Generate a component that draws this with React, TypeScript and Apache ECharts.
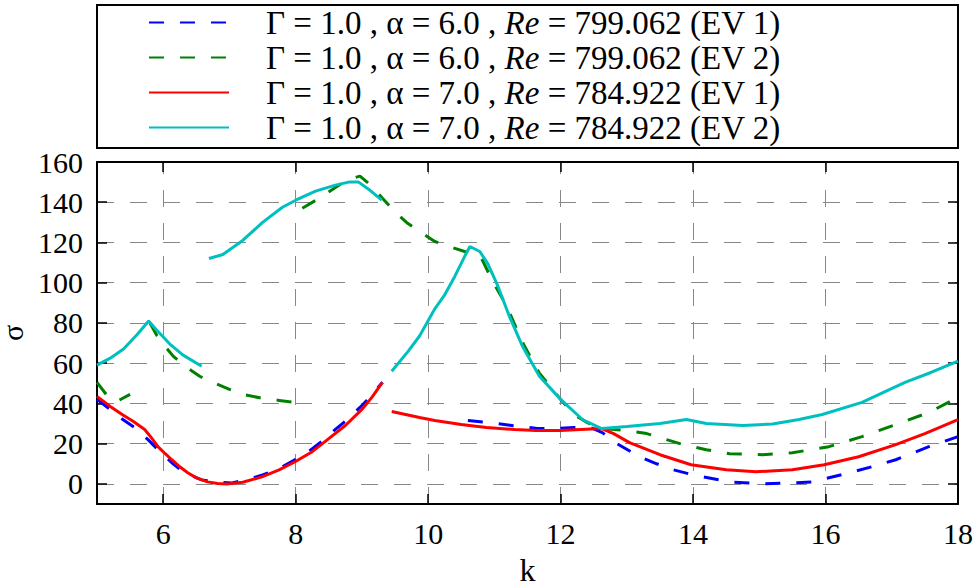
import React, { useEffect, useRef } from "react";
import * as echarts from "echarts";

const FONT = "'Liberation Serif', 'Times New Roman', 'DejaVu Serif', serif";

const xTicks = [6, 8, 10, 12, 14, 16, 18];
const yTicks = [0, 20, 40, 60, 80, 100, 120, 140, 160];

const seriesNames = [
  "Γ = 1.0 , α = 6.0 , Re = 799.062 (EV 1)",
  "Γ = 1.0 , α = 6.0 , Re = 799.062 (EV 2)",
  "Γ = 1.0 , α = 7.0 , Re = 784.922 (EV 1)",
  "Γ = 1.0 , α = 7.0 , Re = 784.922 (EV 2)",
];

// alpha = 6.0, EV 1 (blue dashed)
const blueSeg1: number[][] = [
  [5, 42], [5.2, 37], [5.39, 32], [5.57, 28], [5.77, 22], [5.95, 16], [6.13, 10.5],
  [6.3, 6], [6.58, 2], [6.8, 0.8], [7.04, 0.5], [7.26, 2], [7.5, 4.5], [7.72, 7],
  [7.96, 11.5], [8.17, 15.5], [8.39, 21], [8.56, 26], [8.78, 32], [8.97, 38],
  [9.12, 43], [9.31, 50.5],
];
const blueSeg2: number[][] = [
  [10.6, 31.5], [10.9, 30.5], [11.15, 29.5], [11.4, 28.5], [11.65, 27.5], [11.9, 27.5],
  [12.2, 28], [12.45, 28], [12.63, 25.5], [12.85, 20], [13.19, 13.5], [13.45, 10],
  [13.7, 7], [14.0, 4.5], [14.55, 1], [15.05, 0], [15.5, 0.5], [15.8, 1], [16.3, 5],
  [16.7, 8.5], [17.06, 12], [17.56, 18.5], [18, 23.5],
];

// alpha = 6.0, EV 2 (green dashed)
const greenSeg1: number[][] = [[5, 50.5], [5.15, 44], [5.3, 41], [5.5, 44.5]];
const greenSeg2: number[][] = [
  [5.8, 80], [5.9, 74], [6.0, 69.5], [6.15, 63.5], [6.35, 58], [6.55, 53.5],
  [6.75, 50.5], [7.0, 47], [7.2, 44.5], [7.5, 42.5], [7.75, 41.5], [8.0, 40.5],
];
const greenSeg3: number[][] = [
  [8.1, 137], [8.33, 141.5], [8.56, 146.5], [8.77, 151], [8.97, 153], [9.15, 148],
  [9.31, 142], [9.49, 135.5], [9.69, 129.5], [9.87, 125.5], [10.1, 120.5], [10.32, 118],
  [10.6, 115], [10.8, 112.5], [10.97, 101], [11.15, 90.5], [11.23, 85], [11.43, 70],
  [11.68, 55], [12.0, 42], [12.2, 34.5], [12.4, 30.5], [12.62, 27.5], [13.0, 26.5],
  [13.3, 25], [13.6, 22], [13.85, 19.5], [14.2, 17], [14.55, 15], [15.05, 14.5],
  [15.5, 15.5], [16.05, 18.5], [16.55, 23.5], [17.06, 29.5], [17.56, 35.5], [18, 43],
];

// alpha = 7.0, EV 1 (red solid)
const redSeg1: number[][] = [
  [5, 43.5], [5.2, 38.5], [5.38, 34.5], [5.55, 31], [5.72, 27], [5.82, 23], [5.92, 18.5],
  [6.03, 15], [6.13, 12], [6.25, 8.5], [6.37, 5.5], [6.5, 3], [6.67, 1], [6.82, 0.2],
  [6.98, 0], [7.2, 0.8], [7.49, 3.5], [7.75, 7], [7.99, 11], [8.25, 16], [8.48, 22],
  [8.75, 29], [9.0, 37], [9.15, 43], [9.31, 50.5],
];
const redSeg2: number[][] = [
  [9.45, 36], [9.87, 33], [10.1, 31.5], [10.5, 29.5], [10.88, 28], [11.3, 27],
  [11.63, 26.5], [12.0, 26.5], [12.3, 27], [12.62, 27.5], [12.8, 25], [13.04, 20.5],
  [13.5, 14.5], [13.97, 9.5], [14.5, 7], [14.95, 6], [15.5, 7], [15.98, 9.5],
  [16.5, 13.5], [17.06, 19.5], [17.5, 25], [18, 32],
];

// alpha = 7.0, EV 2 (cyan solid)
const cyanSeg1: number[][] = [
  [5, 59], [5.2, 62.5], [5.4, 67], [5.6, 74], [5.78, 81], [5.9, 76.5], [6.1, 69.5],
  [6.3, 64], [6.58, 58.5],
];
const cyanSeg2: number[][] = [
  [6.69, 112], [6.9, 114], [7.2, 121], [7.5, 130], [7.8, 137.5], [8.0, 141], [8.3, 145.5],
  [8.6, 148.5], [8.8, 150], [8.95, 150], [9.1, 146.5], [9.3, 141],
];
const cyanSeg3: number[][] = [
  [9.45, 56], [9.7, 66], [9.87, 73.5], [10.1, 87], [10.25, 94], [10.4, 103], [10.55, 113],
  [10.63, 118], [10.78, 115.5], [10.9, 109.5], [11.05, 98.5], [11.23, 83], [11.43, 68],
  [11.68, 53.5], [12.0, 42], [12.33, 32], [12.62, 27.5], [13.0, 28.5], [13.5, 30],
  [13.9, 32], [14.2, 30], [14.75, 29], [15.2, 29.8], [15.6, 32], [15.95, 34.5],
  [16.55, 40.5], [17.2, 50.5], [17.6, 55.5], [18, 61],
];

function joinSegments(...segs: number[][][]): (number | null)[][] {
  const out: (number | null)[][] = [];
  segs.forEach((seg, i) => {
    if (i > 0) out.push([seg[0][0], null]);
    seg.forEach((p) => out.push(p));
  });
  return out;
}

const seriesData = [
  joinSegments(blueSeg1, blueSeg2),
  joinSegments(greenSeg1, greenSeg2, greenSeg3),
  joinSegments(redSeg1, redSeg2),
  joinSegments(cyanSeg1, cyanSeg2, cyanSeg3),
];
const seriesColors = ["#0000ff", "#008000", "#ff0000", "#00bfbf"];
const seriesDashed = [true, true, false, false];

export default function App() {
  const ref = useRef<HTMLDivElement>(null);
  useEffect(() => {
    document.body.style.margin = "0";
    if (!ref.current) return;
    const chart = echarts.init(ref.current, undefined, { renderer: "svg" });
    const axisLine = { show: true, onZero: false, lineStyle: { color: "#000", width: 2 } };
    const tick = (vals: number[]) => ({
      show: true,
      inside: true,
      length: 10,
      customValues: vals,
      lineStyle: { color: "#000", width: 1.5 },
    });
    const grid = (offset: number) => ({
      show: true,
      lineStyle: { color: "#888", width: 1, type: [17, 16], dashOffset: offset },
    });
    const labelStyle = { fontFamily: FONT, fontSize: 30, color: "#000" };
    chart.setOption({
      animation: false,
      backgroundColor: "#fff",
      grid: {
        left: 97,
        right: 18,
        top: 162,
        bottom: 84,
        containLabel: false,
        outerBoundsMode: "none",
      },
      graphic: [
        {
          type: "rect",
          z: 0,
          silent: true,
          shape: { x: 97, y: 5, width: 861, height: 143 },
          style: { fill: "#fff", stroke: "#000", lineWidth: 2 },
        },
      ],
      legend: {
        orient: "vertical",
        left: 148,
        top: 5,
        padding: 0,
        itemWidth: 80,
        itemHeight: 14,
        itemGap: 0,
        selectedMode: false,
        data: seriesNames,
        itemStyle: { opacity: 0 },
        formatter: (n: string) => "{s| }" + n.replace("Re", "{i|Re}"),
        textStyle: {
          fontFamily: FONT,
          fontSize: 33,
          color: "#000",
          lineHeight: 35,
          rich: {
            s: { width: 32, fontSize: 33, lineHeight: 35 },
            i: { fontStyle: "italic", fontFamily: FONT, fontSize: 33, lineHeight: 35 },
          },
        },
      },
      xAxis: [
        {
          type: "value",
          min: 5,
          max: 18,
          splitNumber: 7,
          position: "bottom",
          axisLine,
          axisTick: tick(xTicks),
          axisLabel: { ...labelStyle, customValues: xTicks, margin: 14 },
          splitLine: grid(5),
          name: "k",
          nameLocation: "middle",
          nameGap: 50,
          nameTextStyle: { fontFamily: FONT, fontSize: 32, color: "#000" },
        },
        {
          type: "value",
          min: 5,
          max: 18,
          splitNumber: 7,
          position: "top",
          axisLine,
          axisTick: tick(xTicks),
          axisLabel: { show: false },
          splitLine: { show: false },
        },
      ],
      yAxis: [
        {
          type: "value",
          min: -10,
          max: 160,
          splitNumber: 8,
          position: "left",
          axisLine,
          axisTick: tick(yTicks),
          axisLabel: { ...labelStyle, customValues: yTicks, margin: 14 },
          splitLine: grid(0),
          name: "σ",
          nameLocation: "middle",
          nameRotate: 90,
          nameGap: 58,
          nameTextStyle: { fontFamily: FONT, fontSize: 30, lineHeight: 18, color: "#000" },
        },
        {
          type: "value",
          min: -10,
          max: 160,
          splitNumber: 8,
          position: "right",
          axisLine,
          axisTick: tick(yTicks),
          axisLabel: { show: false },
          splitLine: { show: false },
        },
      ],
      series: seriesNames.map((name, i) => ({
        type: "line",
        name,
        data: seriesData[i],
        xAxisIndex: 0,
        yAxisIndex: 0,
        symbol: "none",
        showSymbol: false,
        connectNulls: false,
        clip: true,
        itemStyle: { color: seriesColors[i] },
        lineStyle: {
          color: seriesColors[i],
          width: 3,
          type: seriesDashed[i] ? [15, 16] : "solid",
        },
      })),
    });
    return () => chart.dispose();
  }, []);
  return <div ref={ref} style={{ width: 976, height: 588 }} />;
}
